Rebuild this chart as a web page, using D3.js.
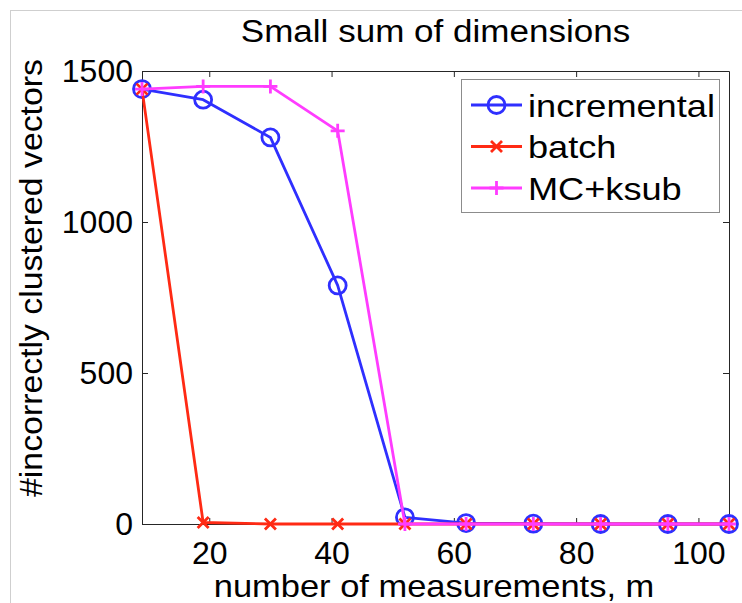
<!DOCTYPE html>
<html>
<head>
<meta charset="utf-8">
<script src="https://cdn.jsdelivr.net/npm/d3@7"></script>
<style>
  body { margin: 0; background: #fff; }
  text { font-family: "Liberation Sans", Arial, sans-serif; fill: #000; }
</style>
</head>
<body>
<script>
const width = 742;
const height = 603;
const stretch = 1.13; // the source text looks a bit wide

const measurements = [9, 19, 30, 41, 52, 62, 73, 84, 95, 105];
const incremental = [1440, 1405, 1280, 790, 22, 3, 1, 0, 0, 0];
const batch = [1440, 5, 0, 0, 0, 0, 0, 0, 0, 0];
const mcKsub = [1440, 1449, 1449, 1302, 0, 0, 0, 0, 0, 0];
const xTicks = [20, 40, 60, 80, 100];
const yTicks = [0, 500, 1000, 1500];

const series = [
  { name: "incremental", values: incremental, color: "#2f2fff", marker: "circle" },
  { name: "batch", values: batch, color: "#ff2a14", marker: "x" },
  { name: "MC+ksub", values: mcKsub, color: "#ff3cff", marker: "plus" },
];

const svg = d3.select("body").append("svg").attr("width", width).attr("height", height);
svg.append("rect").attr("width", width).attr("height", height).attr("fill", "#fff");
svg.append("rect")
  .attr("x", 10.5).attr("y", 10.5).attr("width", 740).attr("height", 600)
  .attr("fill", "none").attr("stroke", "#cfcfcf");

const plotLeft = 142, plotRight = 729, plotTop = 71, plotBottom = 524;
const x = d3.scaleLinear().domain([9, 105]).range([plotLeft, plotRight]);
const y = d3.scaleLinear().domain([0, 1500]).range([plotBottom, plotTop]);

function styleAxis(g) {
  g.selectAll("path, line").attr("stroke", "#262626").attr("stroke-width", 1);
  g.selectAll("text").style("font-size", "32px").attr("fill", "#000");
}

svg.append("g").attr("transform", `translate(0,${plotBottom})`)
  .call(d3.axisBottom(x).tickValues(xTicks).tickSize(-6).tickSizeOuter(0)
    .tickPadding(17).tickFormat(d3.format("d")))
  .call(styleAxis);
svg.append("g").attr("transform", `translate(0,${plotTop})`)
  .call(d3.axisTop(x).tickValues(xTicks).tickSize(-6).tickSizeOuter(0).tickFormat(""))
  .call(styleAxis);
svg.append("g").attr("transform", `translate(${plotLeft},0)`)
  .call(d3.axisLeft(y).tickValues(yTicks).tickSize(-6).tickSizeOuter(0)
    .tickPadding(9).tickFormat(d3.format("d")))
  .call(styleAxis);
svg.append("g").attr("transform", `translate(${plotRight},0)`)
  .call(d3.axisRight(y).tickValues(yTicks).tickSize(-6).tickSizeOuter(0).tickFormat(""))
  .call(styleAxis);

svg.selectAll(".domain").attr("fill", "none");

function drawMarker(g, type, cx, cy, color) {
  if (type === "circle") {
    g.append("circle").attr("cx", cx).attr("cy", cy).attr("r", 8.5)
      .attr("fill", "none").attr("stroke", color).attr("stroke-width", 2.8);
  } else if (type === "x") {
    const s = 5.5;
    g.append("path")
      .attr("d", `M${cx - s},${cy - s}L${cx + s},${cy + s}M${cx - s},${cy + s}L${cx + s},${cy - s}`)
      .attr("stroke", color).attr("stroke-width", 2.8);
  } else {
    const s = 7;
    g.append("path")
      .attr("d", `M${cx - s},${cy}L${cx + s},${cy}M${cx},${cy - s}L${cx},${cy + s}`)
      .attr("stroke", color).attr("stroke-width", 2.8);
  }
}

const line = d3.line().x((d, i) => x(measurements[i])).y((d) => y(d));

series.forEach((s) => {
  const g = svg.append("g");
  g.append("path").datum(s.values).attr("d", line)
    .attr("fill", "none").attr("stroke", s.color).attr("stroke-width", 2.8)
    .attr("stroke-linejoin", "round");
  s.values.forEach((v, i) => drawMarker(g, s.marker, x(measurements[i]), y(v), s.color));
});

// legend
const legend = svg.append("g");
legend.append("rect")
  .attr("x", 461.5).attr("y", 79.5).attr("width", 258).attr("height", 133)
  .attr("fill", "#fff").attr("stroke", "#8c8c8c").attr("stroke-width", 1);
series.forEach((s, i) => {
  const ly = 105 + i * 41.5;
  legend.append("line").attr("x1", 471).attr("x2", 522).attr("y1", ly).attr("y2", ly)
    .attr("stroke", s.color).attr("stroke-width", 2.8);
  drawMarker(legend, s.marker, 496.5, ly, s.color);
  legend.append("text").attr("class", "wide").attr("x", 528).attr("y", ly)
    .attr("dy", "0.36em").style("font-size", "32px").text(s.name);
});

svg.append("text").attr("class", "wide")
  .attr("x", (plotLeft + plotRight) / 2).attr("y", 42).attr("text-anchor", "middle")
  .style("font-size", "31px").text("Small sum of dimensions");

svg.append("text").attr("class", "wide")
  .attr("x", 434).attr("y", 597).attr("text-anchor", "middle")
  .style("font-size", "30.5px").text("number of measurements, m");

svg.selectAll("text.wide").each(function () {
  const len = this.getComputedTextLength();
  d3.select(this).attr("textLength", len * stretch).attr("lengthAdjust", "spacingAndGlyphs");
});

svg.append("text")
  .attr("transform", "translate(42,278) rotate(-90)").attr("text-anchor", "middle")
  .attr("textLength", 438).attr("lengthAdjust", "spacingAndGlyphs")
  .style("font-size", "31px").text("#incorrectly clustered vectors");
</script>
</body>
</html>
